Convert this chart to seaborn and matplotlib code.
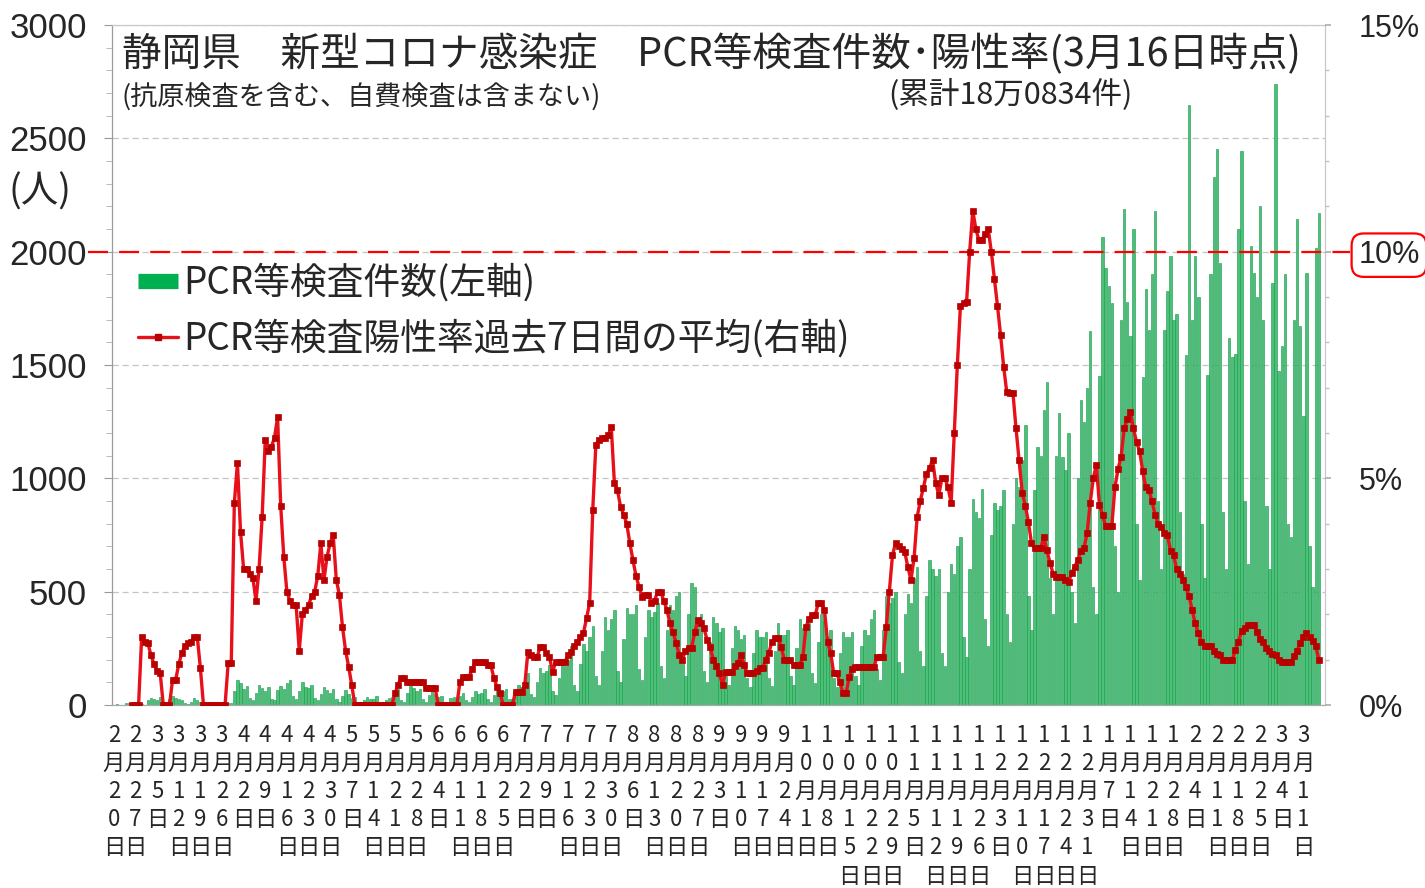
import numpy as np
import pandas as pd
import seaborn as sns
import matplotlib.pyplot as plt
from matplotlib import font_manager
from matplotlib.lines import Line2D
from matplotlib.ticker import MultipleLocator
from matplotlib.transforms import blended_transform_factory

W, H = 1425, 888

# daily PCR test counts, 2020-02-20 .. 2021-03-16 (one row per week, Thu..Wed)
tests_feb_may = [
    0, 5, 0, 0, 10, 8, 5,
    10, 15, 3, 0, 20, 30, 25,
    20, 35, 10, 5, 25, 40, 30,
    25, 20, 8, 3, 15, 30, 20,
    15, 10, 5, 2, 8, 12, 10,
    15, 20, 8, 10, 60, 110, 95,
    70, 85, 30, 20, 55, 90, 75,
    60, 80, 25, 20, 65, 85, 70,
    95, 110, 40, 25, 60, 100, 80,
    75, 90, 30, 20, 50, 80, 65,
    55, 70, 25, 15, 40, 65, 50,
    30, 35, 10, 8, 20, 35, 25,
    25, 40, 12, 8, 20, 30, 35,
    45, 70, 20, 15, 55, 85, 75,
]
tests_may_sep = [
    60, 70, 25, 15, 45, 65, 50,
    35, 40, 15, 10, 30, 35, 30,
    40, 55, 20, 12, 35, 60, 50,
    55, 70, 25, 15, 45, 75, 60,
    60, 70, 25, 20, 60, 90, 80,
    110, 140, 50, 35, 100, 165, 140,
    150, 175, 60, 45, 120, 200, 170,
    200, 260, 90, 60, 180, 270, 240,
    300, 350, 130, 90, 240, 390, 330,
    380, 420, 150, 100, 290, 430, 400,
    400, 440, 160, 110, 300, 420, 390,
    410, 450, 170, 120, 330, 440, 420,
    480, 500, 190, 130, 400, 540, 520,
    380, 400, 150, 100, 280, 390, 360,
]
tests_sep_dec = [
    320, 340, 130, 90, 250, 350, 330,
    290, 310, 120, 80, 230, 330, 300,
    300, 320, 120, 85, 240, 360, 310,
    310, 330, 130, 90, 250, 380, 340,
    330, 360, 140, 95, 280, 400, 370,
    300, 330, 120, 80, 230, 320, 300,
    300, 320, 130, 90, 260, 330, 310,
    380, 420, 160, 110, 330, 480, 450,
    470, 500, 190, 140, 400, 490, 450,
    560, 610, 240, 170, 480, 640, 600,
    570, 600, 230, 170, 500, 620, 580,
    700, 740, 300, 210, 600, 910, 850,
    825, 955, 380, 260, 750, 890, 860,
    880, 950, 400, 280, 800, 1000, 960,
]
tests_dec_mar = [
    1080, 1235, 480, 330, 950, 1140, 1100,
    1300, 1425, 560, 400, 1100, 1290, 1095,
    1035, 1200, 500, 360, 1000, 1345, 1250,
    1400, 1650, 520, 400, 1450, 2065, 1930,
    1850, 1775, 700, 500, 1700, 2190, 1780,
    1630, 2100, 800, 550, 1445, 1835, 1655,
    1900, 2180, 900, 600, 1655, 1825, 1980,
    1700, 1725, 850, 580, 1545, 2645, 1700,
    1980, 1800, 800, 560, 1455, 1900, 2330,
    2455, 1950, 850, 600, 1620, 1535, 1550,
    2100, 2445, 900, 620, 2025, 1905, 1800,
    2200, 1700, 880, 600, 1860, 2740, 1475,
    1585, 1900, 800, 740, 1700, 2145, 1670,
    1275, 1905, 700, 520, 2015, 2170,
]

# 7-day average positivity rate (%)
nan = float("nan")
rate_feb_may = [
    nan, nan, nan, nan, nan, nan, 0,
    0, 0, 1.5, 1.4, 1.37, 1.1, 0.9,
    0.75, 0.7, 0, 0, 0, 0.55, 0.55,
    0.9, 1.15, 1.3, 1.37, 1.4, 1.5, 1.5,
    0.82, 0, 0, 0, 0, 0, 0,
    0, 0, 0.93, 0.93, 4.46, 5.34, 3.82,
    3.0, 3.0, 2.9, 2.8, 2.3, 3.0, 4.15,
    5.85, 5.6, 5.7, 5.9, 6.35, 4.4, 3.27,
    2.5, 2.3, 2.2, 2.2, 1.2, 2.0, 2.1,
    2.2, 2.4, 2.5, 2.85, 3.57, 2.76, 3.27,
    3.57, 3.75, 2.76, 2.43, 1.72, 1.2, 0.84,
    0.44, 0, 0, 0, 0, 0, 0,
    0, 0, 0, 0, 0, 0, 0,
    0.26, 0.45, 0.6, 0.6, 0.5, 0.5, 0.5,
]
rate_may_sep = [
    0.5, 0.5, 0.5, 0.37, 0.37, 0.37, 0.37,
    0, 0, 0, 0, 0, 0, 0,
    0.5, 0.62, 0.62, 0.62, 0.8, 0.95, 0.95,
    0.95, 0.95, 0.88, 0.88, 0.6, 0.4, 0.26,
    0, 0, 0, 0, 0.29, 0.29, 0.29,
    0.44, 1.17, 1.1, 1.06, 1.06, 1.28, 1.28,
    1.15, 1.06, 0.73, 0.95, 0.95, 0.95, 0.95,
    1.1, 1.17, 1.3, 1.39, 1.5, 1.59, 1.92,
    2.25, 4.3, 5.74, 5.85, 5.9, 5.9, 5.95,
    6.13, 4.9, 4.74, 4.37, 4.2, 4.0, 3.57,
    3.2, 2.85, 2.6, 2.38, 2.43, 2.43, 2.25,
    2.3, 2.5, 2.5, 2.3, 2.1, 1.8, 1.6,
    1.37, 1.1, 1.0, 1.2, 1.26, 1.26, 1.6,
    1.87, 1.8, 1.7, 1.43, 1.28, 1.0, 0.85,
]
rate_sep_dec = [
    0.7, 0.44, 0.73, 0.73, 0.73, 0.85, 0.93,
    1.1, 0.88, 0.7, 0.7, 0.7, 0.75, 0.82,
    0.82, 1.0, 1.15, 1.4, 1.48, 1.48, 1.28,
    1.0, 1.0, 1.0, 0.88, 0.88, 0.88, 1.06,
    1.72, 1.9, 1.98, 1.98, 2.25, 2.25, 2.1,
    1.39, 1.15, 0.7, 0.7, 0.5, 0.26, 0.26,
    0.62, 0.8, 0.84, 0.84, 0.84, 0.84, 0.84,
    0.84, 0.84, 1.06, 1.06, 1.06, 1.72, 2.5,
    3.3, 3.57, 3.5, 3.45, 3.37, 3.04, 2.76,
    3.24, 4.15, 4.5, 4.79, 5.1, 5.23, 5.4,
    4.9, 4.63, 5.0, 5.0, 4.8, 4.46, 6.0,
    7.5, 8.8, 8.87, 8.9, 10.0, 10.9, 10.5,
    10.25, 10.25, 10.4, 10.5, 10.0, 9.4, 8.8,
    8.16, 7.46, 6.9, 6.88, 6.88, 6.1, 5.4,
]
rate_dec_mar = [
    4.68, 4.4, 4.04, 3.57, 3.46, 3.46, 3.46,
    3.7, 3.42, 3.13, 2.9, 2.82, 2.82, 2.82,
    2.75, 2.71, 2.91, 3.05, 3.2, 3.4, 3.46,
    3.79, 4.46, 5.0, 5.3, 4.41, 4.2, 3.95,
    3.95, 3.95, 4.8, 5.2, 5.47, 6.1, 6.3,
    6.46, 6.1, 5.8, 5.6, 5.16, 4.8, 4.74,
    4.5, 4.2, 4.0, 3.93, 3.8, 3.75, 3.4,
    3.3, 3.0, 2.9, 2.76, 2.6, 2.4, 2.1,
    1.8, 1.59, 1.4, 1.3, 1.3, 1.3, 1.2,
    1.12, 1.1, 1.0, 1.0, 1.0, 1.0, 1.21,
    1.4, 1.63, 1.7, 1.76, 1.76, 1.76, 1.6,
    1.46, 1.4, 1.26, 1.2, 1.12, 1.1, 1.0,
    0.95, 0.95, 0.95, 0.95, 1.08, 1.2, 1.37,
    1.5, 1.59, 1.5, 1.41, 1.3, 1.0,
]

tick_labels = [
    "2月20日", "2月27日", "3月5日", "3月12日", "3月19日", "3月26日",
    "4月2日", "4月9日", "4月16日", "4月23日", "4月30日", "5月7日",
    "5月14日", "5月21日", "5月28日", "6月4日", "6月11日", "6月18日",
    "6月25日", "7月2日", "7月9日", "7月16日", "7月23日", "7月30日",
    "8月6日", "8月13日", "8月20日", "8月27日", "9月3日", "9月10日",
    "9月17日", "9月24日", "10月1日", "10月8日", "10月15日", "10月22日",
    "10月29日", "11月5日", "11月12日", "11月19日", "11月26日", "12月3日",
    "12月10日", "12月17日", "12月24日", "12月31日", "1月7日", "1月14日",
    "1月21日", "1月28日", "2月4日", "2月11日", "2月18日", "2月25日",
    "3月4日", "3月11日",
]

TITLE = "静岡県　新型コロナ感染症　PCR等検査件数･陽性率(3月16日時点)"
SUBTITLE = "(抗原検査を含む、自費検査は含まない)"
TOTAL = "(累計18万0834件)"
LEGEND_LABELS = ["PCR等検査件数(左軸)", "PCR等検査陽性率過去7日間の平均(右軸)"]

GREEN = "#4dbf78"
GREEN_EDGE = "#159a4a"
GREEN_SOLID = "#00b050"
RED = "#e8101a"
DARK_RED = "#b80000"


def fx(px):
    return px / W


def fy(py):
    return 1 - py / H


tests = tests_feb_may + tests_may_sep + tests_sep_dec + tests_dec_mar
rate = rate_feb_may + rate_may_sep + rate_sep_dec + rate_dec_mar
df = pd.DataFrame({"day": np.arange(len(tests)), "tests": tests, "rate": rate})

sns.set_theme(style="white")
plt.rcParams["font.family"] = ["Noto Sans CJK JP", "DejaVu Sans"]
installed = {f.name for f in font_manager.fontManager.ttflist}
NUM_FONT = "Liberation Sans Narrow" if "Liberation Sans Narrow" in installed else "Liberation Sans"

fig = plt.figure(figsize=(W / 100, H / 100), dpi=100)
ax = fig.add_axes([fx(112), fy(705), (1325 - 112) / W, 680 / H])

sns.barplot(data=df, x="day", y="tests", native_scale=True, color=GREEN,
            saturation=1, width=0.78, errorbar=None, edgecolor=GREEN_EDGE,
            linewidth=0.4, ax=ax)
ax.set_xlim(-0.6, 392)
ax.set_ylim(0, 3000)
ax.set_xlabel("")
ax.set_ylabel("")
ax.set_yticks(range(0, 3001, 500))
ax.yaxis.set_minor_locator(MultipleLocator(100))
ax.set_xticks([])
ax.tick_params(axis="y", which="major", left=True, length=6, width=0.8,
               color="#9a9a9a", pad=12, labelsize=25)
ax.tick_params(axis="y", which="minor", left=True, length=4, width=0.6, color="#b0b0b0")
for t in ax.get_yticklabels():
    t.set_fontfamily(NUM_FONT)
ax.yaxis.grid(True, which="major", linestyle=(0, (5, 3)), color="#c4c4c4", linewidth=0.9)
ax.set_axisbelow(True)
for side, col in [("left", "#9a9a9a"), ("bottom", "#aaaaaa"), ("top", "#c8c8c8"), ("right", "#c8c8c8")]:
    ax.spines[side].set_color(col)
    ax.spines[side].set_linewidth(0.9)

ax2 = ax.twinx()
ax2.plot([-0.02, 1.021], [10, 10], transform=ax2.get_yaxis_transform(),
         color="red", lw=1.6, linestyle=(0, (9, 5)), clip_on=False, zorder=1)
sns.lineplot(data=df, x="day", y="rate", ax=ax2, color=RED, linewidth=2.4,
             marker="s", markersize=4.2, markerfacecolor=DARK_RED,
             markeredgecolor=DARK_RED, markeredgewidth=0.5, zorder=3)
ax2.set_ylim(0, 15)
ax2.set_xlim(-0.6, 392)
ax2.set_xlabel("")
ax2.set_ylabel("")
ax2.set_yticks([0, 5, 10, 15], labels=["0%", "5%", "10%", "15%"])
ax2.yaxis.set_minor_locator(MultipleLocator(1))
ax2.tick_params(axis="y", which="major", right=True, length=4, color="#b0b0b0",
                pad=20, labelsize=22)
ax2.tick_params(axis="y", which="minor", right=True, length=3, color="#c0c0c0")
ax2.grid(False)
for t in ax2.get_yticklabels():
    t.set_fontfamily(NUM_FONT)
    if t.get_text() == "10%":
        t.set_bbox(dict(boxstyle="round,pad=0.22,rounding_size=0.4", fc="white",
                        ec="red", lw=1.6))
for side in ["left", "bottom", "top", "right"]:
    ax2.spines[side].set_visible(False)

# weekly date labels, one character per row
trans = blended_transform_factory(ax.transData, fig.transFigure)
for k, lab in enumerate(tick_labels):
    for j, ch in enumerate(lab):
        ax.text(k * 7, fy(735 + 28.2 * j), ch, transform=trans, ha="center",
                va="center", fontsize=16, clip_on=False)

fig.text(fx(8), fy(192), "(人)", fontsize=27, va="center", ha="left")
fig.text(fx(122), fy(55), TITLE, fontsize=28.5, va="center", ha="left")
fig.text(fx(122), fy(98), SUBTITLE, fontsize=19.5, va="center", ha="left")
fig.text(fx(888), fy(95), TOTAL, fontsize=22, va="center", ha="left")

handles = [
    Line2D([], [], color=GREEN_SOLID, lw=11, solid_capstyle="butt"),
    Line2D([], [], color=RED, lw=2.4, marker="s", markersize=4.2,
           markerfacecolor=DARK_RED, markeredgecolor=DARK_RED),
]
ax2.legend(handles, LEGEND_LABELS, loc="upper left",
           bbox_to_anchor=((138 - 112) / 1213, (705 - 264) / 680),
           frameon=False, fontsize=26.5, handlelength=1.1, handletextpad=0.12,
           labelspacing=0.45, borderpad=0, borderaxespad=0)

fig.savefig("out.png", dpi=100)
